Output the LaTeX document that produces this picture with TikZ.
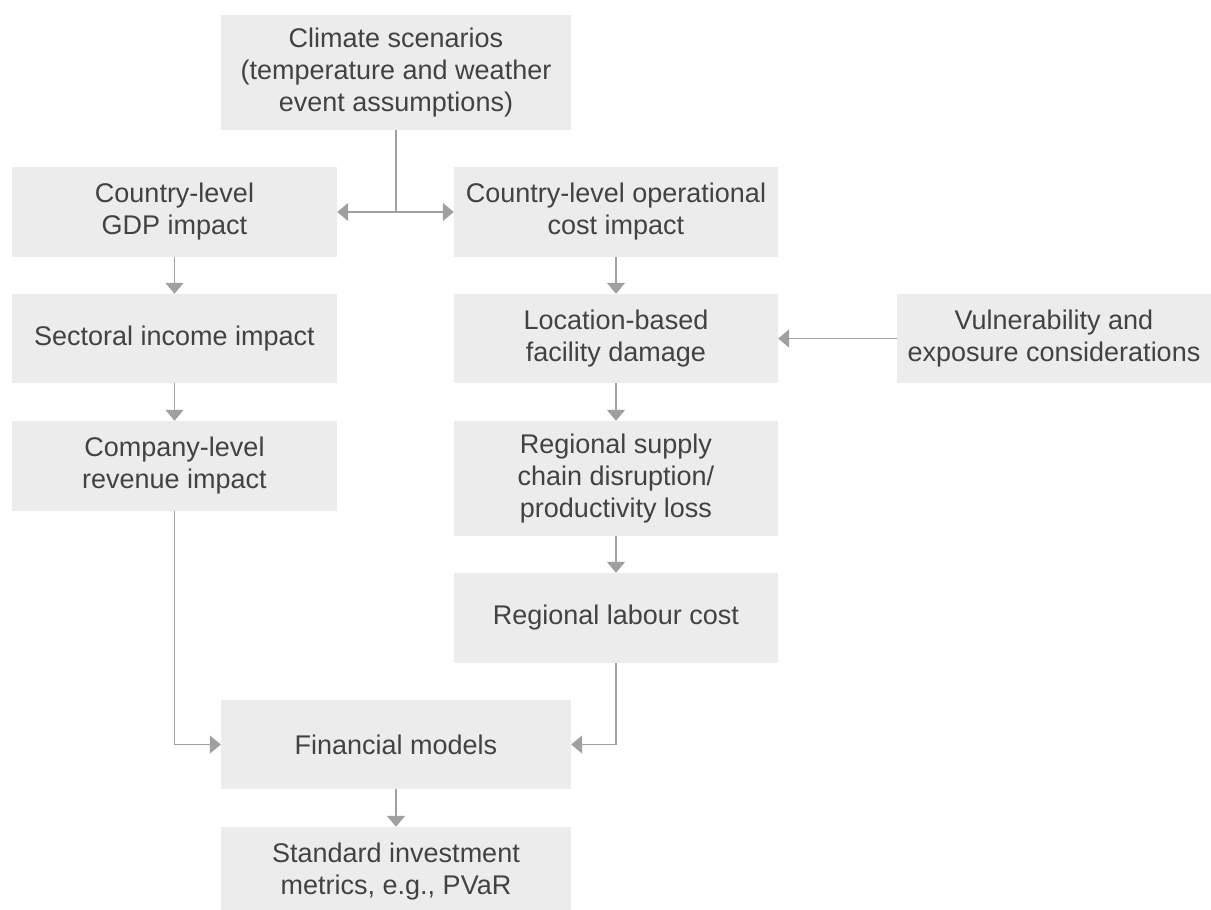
\documentclass[tikz,border=0pt]{standalone}
\usepackage{fontspec}
\setmainfont{Liberation Sans}
\usetikzlibrary{arrows.meta}
\definecolor{boxfill}{HTML}{ECECEC}
\definecolor{linegray}{HTML}{A0A0A0}
\definecolor{txtgray}{HTML}{424242}
\tikzset{
  box/.style={fill=boxfill, draw=none, inner sep=0pt, align=center, text=txtgray,
    font=\fontsize{27}{32}\selectfont},
  conn/.style={draw=linegray, line width=1.6pt},
  arr/.style={conn, -{Triangle[width=18pt,length=11pt]}, shorten >=0pt}
}
\begin{document}
\begin{tikzpicture}[x=1pt,y=-1pt]
\useasboundingbox (0,0) rectangle (1211,910);
\node[box, minimum width=350pt, minimum height=115pt] (clim) at (396,72.5) {Climate scenarios\\(temperature and weather\\event assumptions)};
\node[box, minimum width=325pt, minimum height=90pt] (gdp) at (174.5,212) {Country-level\\GDP impact};
\node[box, minimum width=324pt, minimum height=90pt] (op) at (616,212) {Country-level operational\\cost impact};
\node[box, minimum width=325pt, minimum height=89pt] (sect) at (174.5,338.5) {Sectoral income impact};
\node[box, minimum width=324pt, minimum height=89pt] (loc) at (616,338.5) {Location-based\\facility damage};
\node[box, minimum width=314pt, minimum height=89pt] (vul) at (1054,338.5) {Vulnerability and\\exposure considerations};
\node[box, minimum width=325pt, minimum height=90pt] (comp) at (174.5,466) {Company-level\\revenue impact};
\node[box, minimum width=324pt, minimum height=115pt] (sup) at (616,478.5) {Regional supply\\chain disruption/\\productivity loss};
\node[box, minimum width=324pt, minimum height=90pt] (lab) at (616,618) {Regional labour cost};
\node[box, minimum width=350pt, minimum height=89pt] (fin) at (396,744.5) {Financial models};
\node[box, minimum width=350pt, minimum height=90pt] (std) at (396,872) {Standard investment\\metrics, e.g., PVaR};

\coordinate (j) at (clim.south |- gdp.east);
\draw[conn] (clim.south) -- (j);
\draw[arr] (j) -- (gdp.east);
\draw[arr] (j) -- (op.west);
\draw[arr] (gdp.south) -- (sect.north);
\draw[arr] (sect.south) -- (comp.north);
\draw[arr] (op.south) -- (loc.north);
\draw[arr] (vul.west) -- (loc.east);
\draw[arr] (loc.south) -- (sup.north);
\draw[arr] (sup.south) -- (lab.north);
\draw[arr] (comp.south) |- (fin.west);
\draw[arr] (lab.south) |- (fin.east);
\draw[arr] (fin.south) -- (std.north);
\end{tikzpicture}
\end{document}
